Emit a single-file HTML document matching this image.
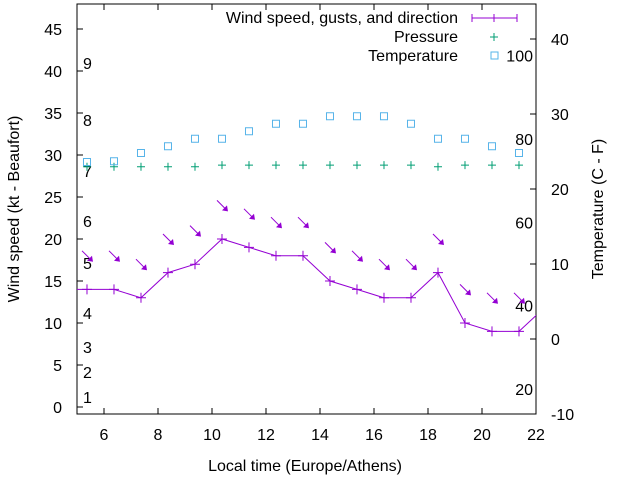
<!DOCTYPE html>
<html><head><meta charset="utf-8"><style>
body{margin:0;background:#fff}
svg text{font-family:"Liberation Sans",sans-serif;font-size:16px;fill:#000}
</style></head><body>
<svg id="c" width="640" height="480">
</svg>
<script>
const hours=[5.37,6.37,7.37,8.37,9.37,10.37,11.37,12.37,13.37,14.37,15.37,16.37,17.37,18.37,19.37,20.37,21.37];
const wind=[14,14,13,16,17,20,19,18,18,15,14,13,13,16,10,9,9];
const gusts=[18,18,17,20,21,24,23,22,22,19,18,17,17,20,14,13,13];
const pressure=[28.6,28.6,28.6,28.6,28.6,28.8,28.8,28.8,28.8,28.8,28.8,28.8,28.8,28.6,28.8,28.8,28.8];
const temperature=[23.6,23.7,24.8,25.7,26.7,26.7,27.7,28.7,28.7,29.7,29.7,29.7,28.7,26.7,26.7,25.7,24.8];
const xTicks=[6,8,10,12,14,16,18,20,22];
const yTicks=[0,5,10,15,20,25,30,35,40,45];
const y2Ticks=[-10,0,10,20,30,40];
const beaufort=[[1,397],[2,372],[3,347],[4,313],[5,263],[6,221],[7,171],[8,120],[9,63]];
const fahr=[20,40,60,80,100];
const L=77,R=536,T=4,B=414;
const X=h=>L+(h-5)*(R-L)/17;
const Y=v=>407-v*8.4;
const Y2=c=>339-c*7.5;
const svg=document.getElementById('c');const NS='http://www.w3.org/2000/svg';
function el(t,a,p){const e=document.createElementNS(NS,t);for(const k in a)e.setAttribute(k,a[k]);(p||svg).appendChild(e);return e;}
function txt(s,x,y,anchor,name){const e=el('text',{x:x,y:y,'text-anchor':anchor||'start'});e.textContent=s;return e;}
el('rect',{x:L,y:T,width:R-L,height:B-T,fill:'none',stroke:'#000','stroke-width':1});
xTicks.forEach(t=>{const x=X(t);el('line',{x1:x,x2:x,y1:B,y2:B-6,stroke:'#000'});el('line',{x1:x,x2:x,y1:T,y2:T+6,stroke:'#000'});txt(String(t),x,440,'middle','x-tick-label');});
yTicks.forEach(t=>{const y=Y(t);el('line',{x1:L,x2:L+6,y1:y,y2:y,stroke:'#000'});txt(String(t),62,y+6,'end','y-tick-label');});
y2Ticks.forEach(t=>{const y=Y2(t);el('line',{x1:R,x2:R-6,y1:y,y2:y,stroke:'#000'});txt(String(t),551,y+6,'start','y2-tick-label');});
beaufort.forEach(b=>txt(String(b[0]),83,b[1]+6,'start','beaufort-label'));
fahr.forEach(f=>txt(String(f),533,Y2((f-32)/1.8)+6,'end','fahrenheit-label'));
const clip=el('clipPath',{id:'pc'});el('rect',{x:L,y:T,width:R-L,height:B-T},clip);
const g=el('g',{'clip-path':'url(#pc)'});
let pts=[[X(4.37),Y(14)]].concat(hours.map((h,i)=>[X(h),Y(wind[i])])).concat([[X(22.37),Y(12)]]);
const pl=el('polyline',{points:pts.map(p=>p.join(',')).join(' '),fill:'none',stroke:'#9400d3','stroke-width':1},g);

hours.forEach((h,i)=>{const x=X(h),y=Y(wind[i]);const p=el('path',{d:`M${x-5},${y}h10M${x},${y-5}v10`,stroke:'#9400d3'},g);});
hours.forEach((h,i)=>{const x=X(h),y=Y(gusts[i]);const a=el('g',{},g);
el('line',{x1:x-5,y1:y-5,x2:x+4,y2:y+4,stroke:'#9400d3'},a);el('polygon',{points:`${x+6},${y+6} ${x},${y+5} ${x+5},${y}`,fill:'#9400d3'},a);});
hours.forEach((h,i)=>{const x=X(h),y=Y(pressure[i]);const p=el('path',{d:`M${x-4},${y}h8M${x},${y-4}v8`,stroke:'#009e73'},g);});
hours.forEach((h,i)=>{const x=X(h),y=Y2(temperature[i]);const r=el('rect',{x:x-3.5,y:y-3.5,width:7,height:7,fill:'none',stroke:'#56b4e9'},g);});
txt('Wind speed, gusts, and direction',458,23,'end','legend-wind');
el('path',{d:'M472,18h45M472,14v8M494,14v8M517,14v8',stroke:'#9400d3'});
txt('Pressure',458,42,'end','legend-pressure');
el('path',{d:'M490,37h8M494,33v8',stroke:'#009e73'});
txt('Temperature',458,61,'end','legend-temperature');
el('rect',{x:491,y:52,width:7,height:7,fill:'none',stroke:'#56b4e9'});
txt('Local time (Europe/Athens)',305,471,'middle','x-axis-title');
const yt=txt('Wind speed (kt - Beaufort)',0,0,'middle','y-axis-title');yt.setAttribute('transform','translate(19,209) rotate(-90)');
const y2t=txt('Temperature (C - F)',0,0,'middle','y2-axis-title');y2t.setAttribute('transform','translate(603,209) rotate(-90)');
</script>
</body></html>
